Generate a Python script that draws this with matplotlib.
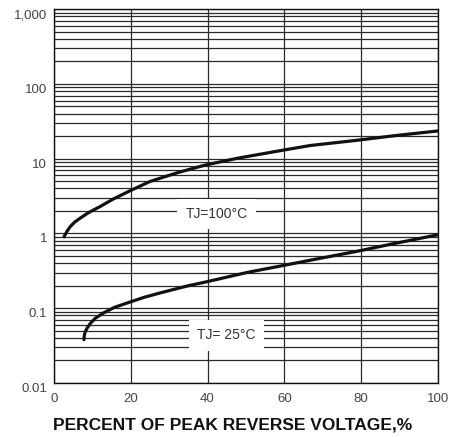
import numpy as np
import matplotlib.pyplot as plt
from matplotlib.ticker import FixedLocator, LogLocator, NullFormatter

plt.rcParams['font.family'] = ['Liberation Sans', 'DejaVu Sans']

# curve readings (percent of PRV, leakage current)
pct_100 = [2.6, 3.3, 4.2, 5.4, 6.8, 9.0, 12.0, 15.5, 19.8, 25.0, 32.4, 39.3,
           47.6, 58.9, 66.7, 78.8, 89.0, 100.0]
cur_100 = [0.9, 1.05, 1.23, 1.42, 1.6, 1.9, 2.29, 2.9, 3.72, 4.96, 6.55, 8.2,
           10.1, 12.8, 15.0, 17.6, 20.4, 23.5]

pct_25 = [7.8, 7.9, 8.1, 8.7, 9.4, 10.7, 12.8, 15.8, 19.8, 23.5, 27.6, 35.0,
          39.3, 50.2, 58.9, 69.3, 78.8, 89.0, 100.0]
cur_25 = [0.038, 0.043, 0.048, 0.055, 0.062, 0.073, 0.086, 0.103, 0.121,
          0.14, 0.16, 0.2, 0.223, 0.3, 0.366, 0.465, 0.575, 0.74, 0.96]

y_ticks = [0.01, 0.1, 1, 10, 100, 1000]
y_labels = ['0.01', '0.1', '1', '10', '100', '1,000']
x_ticks = [0, 20, 40, 60, 80, 100]

fig = plt.figure(figsize=(4.5, 4.37), dpi=100)
ax = fig.add_axes([0.12, 0.1236, 0.853, 0.8554])

ax.set_yscale('log')
ax.set_xlim(0, 100)
ax.set_ylim(0.01, 1000)

ax.yaxis.set_major_locator(FixedLocator(y_ticks))
ax.set_yticklabels(y_labels)
ax.yaxis.set_minor_locator(LogLocator(base=10, subs=np.arange(2, 10)))
ax.yaxis.set_minor_formatter(NullFormatter())
ax.set_xticks(x_ticks)

ax.grid(True, which='both', axis='y', color='#2a2a2a', linewidth=0.9)
ax.grid(True, which='major', axis='x', color='#2a2a2a', linewidth=0.9)
ax.set_axisbelow(True)

ax.tick_params(axis='both', which='both', length=0, labelsize=9.5, labelcolor='#444444')
ax.tick_params(axis='y', pad=5)
ax.tick_params(axis='x', pad=7)
for lbl in ax.get_yticklabels():
    lbl.set_verticalalignment('top')
for s in ax.spines.values():
    s.set_color('#111111')
    s.set_linewidth(1.0)

ax.plot(pct_100, cur_100, color='#111111', linewidth=2.3,
        solid_capstyle='round', solid_joinstyle='round')
ax.plot(pct_25, cur_25, color='#111111', linewidth=2.3,
        solid_capstyle='round', solid_joinstyle='round')

box = dict(facecolor='white', edgecolor='none', pad=6)
ax.text(42.4, 1.83, 'TJ=100°C', ha='center', va='center', fontsize=10,
        color='#333333', bbox=box)
ax.text(45, 0.0434, 'TJ= 25°C', ha='center', va='center', fontsize=10,
        color='#333333', bbox=box)

ax.set_xlabel('PERCENT OF PEAK REVERSE VOLTAGE,%', fontsize=12.5,
              fontweight='bold', color='#111111', labelpad=9)
ax.xaxis.label.set_x(0.465)

fig.savefig('out.png', dpi=100)
